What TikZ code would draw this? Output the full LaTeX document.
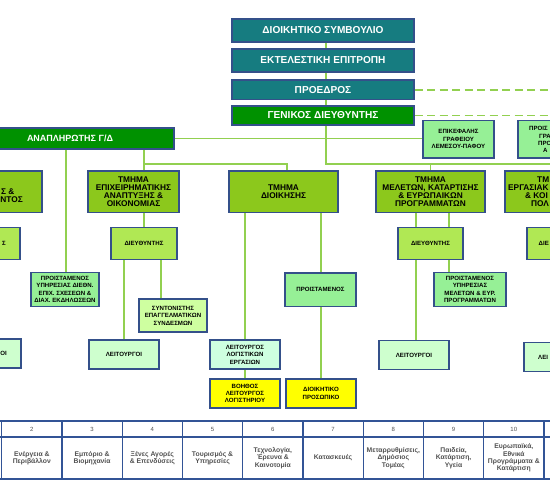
\documentclass[tikz,border=0pt]{standalone}
\usepackage{fontspec}
\setmainfont{Liberation Sans}
\usetikzlibrary{calc}
\definecolor{tealc}{RGB}{22,124,128}
\definecolor{gdg}{RGB}{0,145,0}
\definecolor{bblue}{RGB}{52,80,138}
\definecolor{deptg}{RGB}{140,200,28}
\definecolor{dirg}{RGB}{176,232,84}
\definecolor{prog}{RGB}{150,240,150}
\definecolor{leitg}{RGB}{206,255,206}
\definecolor{leitd}{RGB}{206,255,224}
\definecolor{syntg}{RGB}{206,255,160}
\definecolor{yel}{RGB}{255,255,0}
\definecolor{lgreen}{RGB}{146,208,80}
\definecolor{tblue}{RGB}{50,84,150}
\definecolor{tgray}{RGB}{80,80,80}
\newcommand\ftop{\bfseries\fontsize{10.1}{11}\selectfont}
\newcommand\fanap{\bfseries\fontsize{9}{11}\selectfont}
\newcommand\fdept{\bfseries\fontsize{8.3}{8}\selectfont}
\newcommand\fsmall{\bfseries\fontsize{6.1}{7.4}\selectfont}
\newcommand\ftab{\bfseries\fontsize{6.8}{7.3}\selectfont}
\newcommand\fnum{\fontsize{6}{7}\selectfont}
\pgfdeclarelayer{bg}
\pgfsetlayers{bg,main}
\begin{document}
\begin{tikzpicture}[x=1pt,y=-1pt,
  conn/.style={draw=lgreen,line width=1.6pt},
  dconn/.style={conn,dash pattern=on 8pt off 4.5pt},
  box/.style={draw=bblue,line width=1.4pt,inner sep=0pt,align=center,font=\fsmall},
  topbox/.style={box,fill=tealc,text=white,font=\ftop,minimum width=182pt},
  deptbox/.style={box,fill=deptg,font=\fdept,minimum height=41.7pt},
  dirbox/.style={box,fill=dirg,minimum height=31.6pt},
  probox/.style={box,fill=prog},
  leitbox/.style={box,fill=leitg,minimum height=29pt},
  yelbox/.style={box,fill=yel,minimum height=29pt,minimum width=70pt},
  frag/.style={inner sep=0pt,font=\fsmall},
  dfrag/.style={inner sep=0pt,font=\fdept},
  numcell/.style={draw=tblue,line width=1.3pt,minimum width=60.3pt,minimum height=15.7pt,inner sep=0pt,font=\fnum,text=tgray},
  txtcell/.style={draw=tblue,line width=1.3pt,minimum width=60.3pt,minimum height=42pt,inner sep=0pt,align=center,font=\ftab,text=tgray}
]
\useasboundingbox (0,0) rectangle (550,500);
\clip (0,0) rectangle (550,500);

% top chain
\node[topbox,minimum height=23pt] (ds) at (323,30.5) {ΔΙΟΙΚΗΤΙΚΟ ΣΥΜΒΟΥΛΙΟ};
\node[topbox,minimum height=23pt] (ee) at (323,60.5) {ΕΚΤΕΛΕΣΤΙΚΗ ΕΠΙΤΡΟΠΗ};
\node[topbox,minimum height=19.5pt] (pr) at (323,89.8) {ΠΡΟΕΔΡΟΣ};
\node[topbox,fill=gdg,minimum height=19pt] (gd) at (323,115.5) {ΓΕΝΙΚΟΣ ΔΙΕΥΘΥΝΤΗΣ};
\node[box,fill=gdg,text=white,font=\fanap,minimum width=208pt,minimum height=21pt] (anap) at (70,138.5) {ΑΝΑΠΛΗΡΩΤΗΣ Γ/Δ};

% offices
\node[probox,minimum width=71pt,minimum height=37.5pt] (epik) at (458.5,139.2) {ΕΠΙΚΕΦΑΛΗΣ\\ΓΡΑΦΕΙΟΥ\\ΛΕΜΕΣΟΥ-ΠΑΦΟΥ};
\node[probox,minimum width=72pt,minimum height=37.5pt] (proisR) at (554,139.2) {};
\node[frag,anchor=west] (proisR1) at (529,128.3) {ΠΡΟΙΣ};
\node[frag,anchor=west] (proisR2) at (539,136) {ΓΡΑ};
\node[frag,anchor=west] (proisR3) at (538,143.4) {ΠΡΟ};
\node[frag,anchor=west] (proisR4) at (543,150.8) {Α};

% departments
\node[deptbox,minimum width=102pt] (deptL) at (-9,191.8) {};
\node[dfrag,anchor=east] (deptL1) at (14.5,192) {Σ \&};
\node[dfrag,anchor=east] (deptL2) at (23,200) {ΝΤΟΣ};
\node[deptbox,minimum width=91pt] (deptE) at (133.5,191.8) {ΤΜΗΜΑ\\ΕΠΙΧΕΙΡΗΜΑΤΙΚΗΣ\\ΑΝΑΠΤΥΞΗΣ \&\\ΟΙΚΟΝΟΜΙΑΣ};
\node[deptbox,minimum width=109pt] (deptD) at (283.5,191.8) {ΤΜΗΜΑ\\ΔΙΟΙΚΗΣΗΣ};
\node[deptbox,minimum width=109pt] (deptM) at (430.5,191.8) {ΤΜΗΜΑ\\ΜΕΛΕΤΩΝ, ΚΑΤΑΡΤΙΣΗΣ\\\& ΕΥΡΩΠΑΙΚΩΝ\\ΠΡΟΓΡΑΜΜΑΤΩΝ};
\node[deptbox,minimum width=115pt] (deptR) at (562.5,191.8) {};
\node[dfrag,anchor=west] (deptR1) at (537,180) {ΤΜ};
\node[dfrag,anchor=west] (deptR2) at (508,188) {ΕΡΓΑΣΙΑΚ};
\node[dfrag,anchor=west] (deptR3) at (525,196) {\& ΚΟΙ};
\node[dfrag,anchor=west] (deptR4) at (531,204) {ΠΟΛ};

% directors
\node[dirbox,minimum width=60pt] (dirL) at (-10,243.5) {};
\node[frag,anchor=east] (dirL1) at (6,243.5) {Σ};
\node[dirbox,minimum width=66pt] (dirE) at (144,243.5) {ΔΙΕΥΘΥΝΤΗΣ};
\node[dirbox,minimum width=65pt] (dirM) at (430.5,243.5) {ΔΙΕΥΘΥΝΤΗΣ};
\node[dirbox,minimum width=70pt] (dirR) at (562,243.5) {};
\node[frag,anchor=west] (dirR1) at (538.5,243.5) {ΔΙΕ};

% heads of services
\node[probox,minimum width=68pt,minimum height=33.5pt] (proE) at (65,289.5) {ΠΡΟΙΣΤΑΜΕΝΟΣ\\ΥΠΗΡΕΣΙΑΣ ΔΙΕΘΝ.\\ΕΠΙΧ. ΣΧΕΣΕΩΝ \&\\ΔΙΑΧ. ΕΚΔΗΛΩΣΕΩΝ};
\node[box,fill=syntg,minimum width=68pt,minimum height=33pt] (synt) at (173,315.5) {ΣΥΝΤΟΝΙΣΤΗΣ\\ΕΠΑΓΓΕΛΜΑΤΙΚΩΝ\\ΣΥΝΔΕΣΜΩΝ};
\node[probox,minimum width=71pt,minimum height=33.5pt] (proD) at (320.5,289.8) {ΠΡΟΙΣΤΑΜΕΝΟΣ};
\node[probox,minimum width=72pt,minimum height=33.5pt] (proM) at (470,289.5) {ΠΡΟΙΣΤΑΜΕΝΟΣ\\ΥΠΗΡΕΣΙΑΣ\\ΜΕΛΕΤΩΝ \& ΕΥΡ.\\ΠΡΟΓΡΑΜΜΑΤΩΝ};

% officers
\node[leitbox,minimum width=70pt] (leitL) at (-14,353.5) {};
\node[frag,anchor=east] (leitL1) at (7,353.5) {ΟΙ};
\node[leitbox,minimum width=70pt] (leitE) at (124,354.5) {ΛΕΙΤΟΥΡΓΟΙ};
\node[leitbox,fill=leitd,minimum width=70pt] (leitD) at (245,354.5) {ΛΕΙΤΟΥΡΓΟΣ\\ΛΟΓΙΣΤΙΚΩΝ\\ΕΡΓΑΣΙΩΝ};
\node[leitbox,minimum width=70pt] (leitM) at (414,355) {ΛΕΙΤΟΥΡΓΟΙ};
\node[leitbox,minimum width=70pt] (leitR) at (559,357) {};
\node[frag,anchor=west] (leitR1) at (538,357) {ΛΕΙ};

% yellow
\node[yelbox] (boh) at (245,393.5) {ΒΟΗΘΟΣ\\ΛΕΙΤΟΥΡΓΟΣ\\ΛΟΓΙΣΤΗΡΙΟΥ};
\node[yelbox] (dp) at (321,393.5) {ΔΙΟΙΚΗΤΙΚΟ\\ΠΡΟΣΩΠΙΚΟ};

% table
\node[numcell] (num1) at (-28.45,429) {};
\node[txtcell] (txt1) at (-28.45,458) {};
\foreach \i/\t in {2/{Ενέργεια \&\\Περιβάλλον},3/{Εμπόριο \&\\Βιομηχανία},4/{Ξένες Αγορές\\\& Επενδύσεις},5/{Τουρισμός \&\\Υπηρεσίες},6/{Τεχνολογία,\\Έρευνα \&\\Καινοτομία},7/{Κατασκευές},8/{Μεταρρυθμίσεις,\\Δημόσιος\\Τομέας},9/{Παιδεία,\\Κατάρτιση,\\Υγεία},10/{Ευρωπαϊκά,\\Εθνικά\\Προγράμματα \&\\Κατάρτιση}}{
  \node[numcell] (num\i) at ({1.7+(\i-2)*60.25+30.125},429) {\i};
  \node[txtcell] (txt\i) at ({1.7+(\i-2)*60.25+30.125},458) {\t};
}
\node[numcell] (num11) at (574.4,429) {};
\node[txtcell] (txt11) at (574.4,458) {};

% connectors
\coordinate (jn) at (326,164);
\coordinate (busEnd) at (560,164);
\coordinate (xa) at (66,0);
\coordinate (busL) at (144,164);
\coordinate (dropD) at (287,164);
\coordinate (xd1) at (245,0);
\coordinate (xd2) at (321,0);
\coordinate (xs) at (161,0);
\coordinate (xm1) at (416,0);
\coordinate (xm2) at (449,0);
\begin{pgfonlayer}{bg}
\draw[conn] (ds.south -| jn) -- (jn) -- (busEnd);
\draw[conn] (anap.east) -- (anap.east -| epik.west);
\draw[conn] (anap.south -| xa) -- (proE.north -| xa);
\draw[conn] (anap.south -| busL) -- (dirE.north);
\draw[conn] (busL) -- (dropD) -- (dropD |- deptD.north);
\draw[conn] (deptM.north |- jn) -- (deptM.north);
\draw[conn] (deptD.south -| xd1) -- (boh.north);
\draw[conn] (deptD.south -| xd2) -- (dp.north);
\draw[conn] (dirE.south -| leitE.north) -- (leitE.north);
\draw[conn] (dirE.south -| xs) -- (synt.north -| xs);
\draw[conn] (deptM.south -| xm1) -- (leitM.north -| xm1);
\draw[conn] (deptM.south -| xm2) -- (proM.north -| xm2);
\draw[dconn] (pr.east) -- (pr.east -| busEnd);
\draw[dconn] (gd.east) -- (gd.east -| busEnd);
\end{pgfonlayer}
\end{tikzpicture}
\end{document}
